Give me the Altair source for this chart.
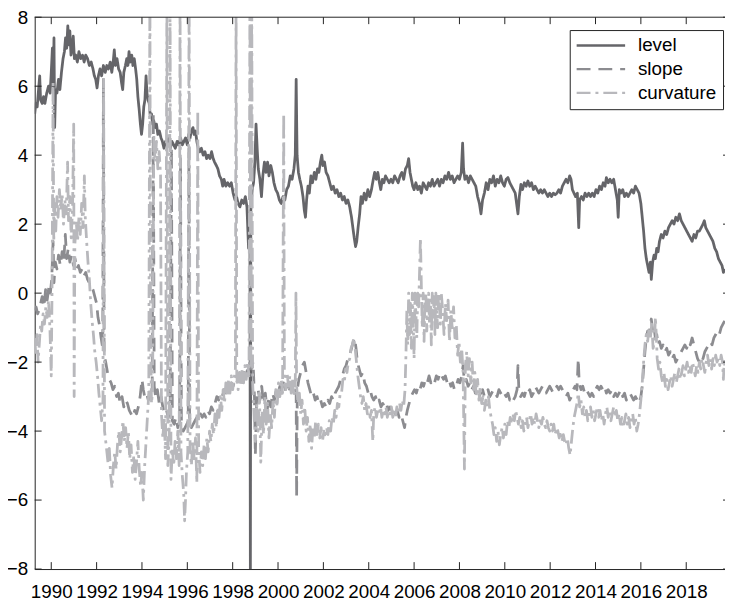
import altair as alt
import pandas as pd

SERIES = ["level", "slope", "curvature"]
COLORS = ["#656569", "#8c8c90", "#b8b8bc"]
DASHES = [[1, 0], [14, 8], [14, 5, 3, 5]]
X_TICKS = list(range(1990, 2019, 2))
Y_TICKS = list(range(-8, 9, 2))
X_DOMAIN = [1989.27, 2019.71]
Y_DOMAIN = [-8, 8]

LEVEL = [
    (1989.27, 5.2), (1989.32, 5.5), (1989.38, 5.4), (1989.44, 5.9), (1989.49, 6.3), (1989.53, 5.6),
    (1989.6, 5.5), (1989.66, 5.7), (1989.72, 5.5), (1989.8, 5.8), (1989.88, 6.0), (1989.95, 5.8),
    (1990.0, 6.4), (1990.05, 7.1), (1990.09, 6.0), (1990.12, 7.4), (1990.15, 4.8), (1990.19, 5.9),
    (1990.25, 5.8), (1990.32, 6.2), (1990.38, 5.9), (1990.45, 6.4), (1990.52, 6.8), (1990.58, 7.0),
    (1990.63, 7.4), (1990.68, 7.1), (1990.73, 7.75), (1990.77, 7.2), (1990.82, 7.6), (1990.87, 6.9),
    (1990.92, 7.1), (1990.97, 7.45), (1991.02, 6.8), (1991.08, 6.9), (1991.15, 6.7), (1991.22, 7.0),
    (1991.3, 6.8), (1991.38, 6.9), (1991.45, 6.7), (1991.52, 6.9), (1991.6, 6.8), (1991.68, 6.6),
    (1991.76, 6.7), (1991.84, 6.5), (1991.9, 6.3), (1991.96, 6.2), (1992.02, 5.95), (1992.08, 6.3),
    (1992.15, 6.5), (1992.22, 6.3), (1992.3, 6.6), (1992.38, 6.4), (1992.45, 6.6), (1992.52, 6.5),
    (1992.6, 6.7), (1992.67, 6.4), (1992.73, 6.7), (1992.78, 7.05), (1992.83, 6.6), (1992.9, 6.8),
    (1992.97, 6.5), (1993.04, 6.4), (1993.1, 6.1), (1993.15, 5.9), (1993.2, 6.4), (1993.27, 6.6),
    (1993.33, 6.8), (1993.38, 6.6), (1993.43, 7.0), (1993.48, 6.7), (1993.55, 6.9), (1993.6, 6.6),
    (1993.66, 6.8), (1993.72, 6.5), (1993.77, 6.2), (1993.82, 5.7), (1993.88, 5.3), (1993.93, 4.9),
    (1993.98, 4.6), (1994.03, 4.9), (1994.08, 5.4), (1994.13, 5.6), (1994.18, 6.3), (1994.22, 5.8),
    (1994.27, 5.6), (1994.32, 5.5), (1994.37, 5.1), (1994.42, 5.2), (1994.47, 4.9), (1994.52, 5.0),
    (1994.58, 4.8), (1994.64, 4.9), (1994.7, 4.6), (1994.77, 4.7), (1994.84, 4.5), (1994.9, 4.4),
    (1994.97, 4.2), (1995.04, 4.4), (1995.1, 4.3), (1995.18, 4.5), (1995.25, 4.2), (1995.32, 4.4),
    (1995.4, 4.3), (1995.47, 4.2), (1995.55, 4.4), (1995.62, 4.3), (1995.7, 4.5), (1995.78, 4.3),
    (1995.85, 4.4), (1995.92, 4.5), (1996.0, 4.3), (1996.06, 4.6), (1996.12, 4.5), (1996.18, 4.7),
    (1996.25, 4.8), (1996.3, 4.6), (1996.36, 4.7), (1996.42, 4.4), (1996.48, 4.2), (1996.55, 4.1),
    (1996.62, 4.2), (1996.7, 4.0), (1996.78, 4.1), (1996.85, 3.9), (1996.92, 4.0), (1997.0, 3.9),
    (1997.07, 4.1), (1997.14, 3.9), (1997.2, 3.8), (1997.28, 3.7), (1997.35, 3.6), (1997.42, 3.4),
    (1997.5, 3.3), (1997.56, 3.1), (1997.62, 3.3), (1997.7, 3.1), (1997.78, 3.2), (1997.86, 3.1),
    (1997.94, 3.2), (1998.02, 2.9), (1998.1, 2.7), (1998.17, 2.8), (1998.24, 2.6), (1998.32, 2.5),
    (1998.4, 2.7), (1998.48, 2.6), (1998.56, 2.8), (1998.63, 2.5), (1998.7, 1.3), (1998.76, 2.2),
    (1998.78, -8.5), (1998.8, 2.4), (1998.86, 3.0), (1998.92, 3.2), (1998.98, 3.8), (1999.03, 4.9),
    (1999.08, 4.2), (1999.13, 3.6), (1999.2, 3.3), (1999.27, 2.8), (1999.33, 3.4), (1999.4, 3.8),
    (1999.47, 3.5), (1999.54, 3.8), (1999.6, 3.4), (1999.68, 3.7), (1999.75, 3.5), (1999.82, 3.2),
    (1999.9, 3.0), (1999.98, 2.9), (2000.06, 2.7), (2000.14, 2.6), (2000.22, 2.8), (2000.3, 2.7),
    (2000.38, 3.0), (2000.46, 3.1), (2000.54, 3.4), (2000.62, 3.3), (2000.7, 3.6), (2000.76, 4.0),
    (2000.8, 6.2), (2000.84, 4.0), (2000.9, 3.5), (2000.96, 3.3), (2001.03, 3.1), (2001.1, 2.8),
    (2001.16, 2.4), (2001.21, 2.2), (2001.26, 2.7), (2001.32, 3.1), (2001.38, 2.9), (2001.45, 3.4),
    (2001.52, 3.2), (2001.6, 3.5), (2001.67, 3.3), (2001.74, 3.6), (2001.8, 3.5), (2001.87, 3.8),
    (2001.93, 4.0), (2001.98, 3.7), (2002.05, 3.8), (2002.12, 3.5), (2002.2, 3.4), (2002.28, 3.2),
    (2002.36, 3.0), (2002.44, 3.1), (2002.52, 2.9), (2002.6, 3.0), (2002.68, 2.8), (2002.76, 2.9),
    (2002.84, 2.7), (2002.92, 2.8), (2003.0, 2.6), (2003.08, 2.7), (2003.16, 2.5), (2003.24, 2.2),
    (2003.3, 1.9), (2003.36, 1.6), (2003.42, 1.35), (2003.47, 1.5), (2003.53, 1.9), (2003.6, 2.3),
    (2003.66, 2.8), (2003.72, 2.6), (2003.8, 2.9), (2003.88, 2.7), (2003.96, 3.0), (2004.04, 2.8),
    (2004.12, 3.0), (2004.2, 3.3), (2004.26, 3.5), (2004.33, 3.3), (2004.4, 3.5), (2004.47, 3.2),
    (2004.53, 3.0), (2004.6, 3.3), (2004.67, 3.2), (2004.74, 3.4), (2004.82, 3.3), (2004.9, 3.2),
    (2004.98, 3.3), (2005.06, 3.2), (2005.14, 3.4), (2005.22, 3.3), (2005.3, 3.2), (2005.38, 3.4),
    (2005.46, 3.5), (2005.54, 3.3), (2005.62, 3.6), (2005.7, 3.7), (2005.76, 3.9), (2005.82, 3.5),
    (2005.88, 3.3), (2005.94, 3.1), (2006.0, 3.0), (2006.08, 3.2), (2006.16, 3.0), (2006.24, 3.1),
    (2006.32, 2.9), (2006.4, 3.2), (2006.48, 3.1), (2006.56, 3.0), (2006.64, 3.2), (2006.72, 3.1),
    (2006.8, 3.3), (2006.88, 3.1), (2006.96, 3.2), (2007.04, 3.3), (2007.12, 3.1), (2007.2, 3.3),
    (2007.28, 3.2), (2007.36, 3.4), (2007.44, 3.3), (2007.52, 3.5), (2007.6, 3.3), (2007.68, 3.4),
    (2007.76, 3.2), (2007.84, 3.3), (2007.92, 3.4), (2008.0, 3.3), (2008.08, 3.5), (2008.14, 4.35),
    (2008.18, 3.6), (2008.24, 3.3), (2008.32, 3.4), (2008.4, 3.2), (2008.48, 3.4), (2008.56, 3.3),
    (2008.64, 3.2), (2008.72, 3.1), (2008.8, 2.8), (2008.88, 2.6), (2008.95, 2.3), (2009.02, 2.7),
    (2009.1, 2.9), (2009.18, 3.2), (2009.26, 3.0), (2009.34, 3.3), (2009.42, 3.2), (2009.5, 3.4),
    (2009.58, 3.1), (2009.66, 3.3), (2009.74, 3.2), (2009.82, 3.4), (2009.9, 3.2), (2009.98, 3.1),
    (2010.06, 3.3), (2010.14, 3.35), (2010.22, 3.2), (2010.3, 3.1), (2010.38, 3.0), (2010.46, 2.9),
    (2010.52, 2.6), (2010.58, 2.3), (2010.64, 2.8), (2010.71, 3.15), (2010.78, 3.0), (2010.86, 3.2),
    (2010.94, 3.1), (2011.02, 3.25), (2011.1, 3.1), (2011.18, 3.2), (2011.26, 3.0), (2011.34, 3.1),
    (2011.42, 3.0), (2011.5, 2.9), (2011.58, 3.0), (2011.66, 2.9), (2011.74, 3.0), (2011.82, 2.9),
    (2011.9, 2.8), (2011.98, 2.9), (2012.06, 2.8), (2012.14, 2.9), (2012.22, 2.85), (2012.3, 2.9),
    (2012.38, 3.0), (2012.46, 2.9), (2012.54, 3.1), (2012.62, 3.2), (2012.7, 3.3), (2012.78, 3.2),
    (2012.86, 3.4), (2012.92, 3.3), (2012.98, 3.0), (2013.05, 2.9), (2013.12, 2.8), (2013.2, 2.9),
    (2013.26, 1.9), (2013.3, 2.7), (2013.38, 2.8), (2013.46, 2.7), (2013.54, 2.9), (2013.62, 2.8),
    (2013.7, 2.9), (2013.78, 2.8), (2013.86, 2.9), (2013.94, 2.8), (2014.02, 3.0), (2014.1, 2.9),
    (2014.18, 3.1), (2014.26, 3.0), (2014.34, 3.2), (2014.42, 3.1), (2014.48, 3.35), (2014.56, 3.2),
    (2014.64, 3.3), (2014.72, 3.2), (2014.8, 3.3), (2014.88, 3.0), (2014.96, 2.7), (2015.0, 2.2),
    (2015.05, 3.0), (2015.12, 2.9), (2015.2, 3.0), (2015.28, 2.8), (2015.36, 2.9), (2015.44, 2.8),
    (2015.52, 2.9), (2015.6, 3.0), (2015.68, 2.9), (2015.76, 3.1), (2015.84, 3.0), (2015.92, 2.9),
    (2016.0, 2.6), (2016.06, 2.2), (2016.12, 1.8), (2016.18, 1.3), (2016.24, 1.0), (2016.3, 0.8),
    (2016.36, 0.6), (2016.42, 0.9), (2016.46, 0.4), (2016.52, 0.9), (2016.58, 1.1), (2016.64, 1.0),
    (2016.7, 1.3), (2016.76, 1.2), (2016.82, 1.5), (2016.9, 1.7), (2016.98, 1.6), (2017.06, 1.8),
    (2017.14, 1.7), (2017.22, 1.9), (2017.3, 2.0), (2017.38, 2.1), (2017.46, 2.0), (2017.54, 2.2),
    (2017.62, 2.1), (2017.7, 2.3), (2017.78, 2.1), (2017.86, 2.0), (2017.94, 1.9), (2018.02, 1.8),
    (2018.1, 1.7), (2018.18, 1.6), (2018.26, 1.5), (2018.34, 1.7), (2018.42, 1.6), (2018.5, 1.8),
    (2018.58, 1.8), (2018.66, 1.9), (2018.74, 2.0), (2018.8, 2.1), (2018.86, 1.9), (2018.94, 1.8),
    (2019.02, 1.7), (2019.1, 1.6), (2019.18, 1.5), (2019.26, 1.3), (2019.34, 1.2), (2019.42, 1.0),
    (2019.5, 0.9), (2019.58, 0.8), (2019.64, 0.6), (2019.7, 0.7),
]

SLOPE = [
    (1989.27, -0.5), (1989.33, -0.4), (1989.4, -0.6), (1989.46, -0.5), (1989.53, -0.3), (1989.6, -0.1),
    (1989.68, -0.4), (1989.75, 0.1), (1989.82, -0.2), (1989.9, 0.2), (1989.96, 0.0), (1990.02, 0.4),
    (1990.08, 1.5), (1990.12, 0.3), (1990.18, 0.9), (1990.25, 0.7), (1990.32, 1.1), (1990.4, 0.8),
    (1990.48, 1.2), (1990.55, 0.9), (1990.62, 1.7), (1990.68, 1.0), (1990.75, 1.3), (1990.82, 0.9),
    (1990.9, 1.1), (1990.98, 0.8), (1991.05, 1.0), (1991.12, 0.7), (1991.2, 0.8), (1991.28, 0.6),
    (1991.36, 0.7), (1991.44, 0.5), (1991.52, 0.6), (1991.6, 0.4), (1991.68, 0.3), (1991.76, 0.2),
    (1991.84, 0.1), (1991.92, -0.1), (1992.0, -0.3), (1992.06, -0.7), (1992.12, -0.9), (1992.2, -1.3),
    (1992.27, -1.6), (1992.3, 6.2), (1992.33, -1.8), (1992.4, -2.0), (1992.48, -2.3), (1992.56, -2.5),
    (1992.64, -2.6), (1992.72, -2.8), (1992.8, -2.7), (1992.88, -3.0), (1992.96, -2.9), (1993.04, -3.2),
    (1993.12, -3.0), (1993.2, -3.3), (1993.28, -3.1), (1993.36, -3.2), (1993.44, -3.4), (1993.52, -3.5),
    (1993.6, -3.6), (1993.68, -3.4), (1993.76, -3.5), (1993.84, -3.3), (1993.92, -3.0), (1994.0, -2.5),
    (1994.06, -2.8), (1994.12, -3.0), (1994.2, -2.9), (1994.28, -3.1), (1994.36, -2.8), (1994.45, -2.9),
    (1994.5, 5.2), (1994.54, -2.7), (1994.6, -3.0), (1994.68, -2.8), (1994.76, -3.2), (1994.84, -3.0),
    (1994.92, -3.3), (1995.0, -3.5), (1995.08, -3.4), (1995.16, -3.6), (1995.24, -3.5), (1995.3, 4.2),
    (1995.34, -3.7), (1995.42, -3.8), (1995.5, -3.6), (1995.58, -3.9), (1995.66, -3.7), (1995.7, 3.9),
    (1995.74, -3.8), (1995.82, -4.0), (1995.9, -3.9), (1995.98, -3.8), (1996.04, -3.7), (1996.07, 4.2),
    (1996.1, -3.6), (1996.18, -3.9), (1996.26, -3.8), (1996.34, -3.7), (1996.42, -3.6), (1996.5, -3.7),
    (1996.58, -3.5), (1996.66, -3.6), (1996.74, -3.5), (1996.82, -3.6), (1996.9, -3.4), (1996.98, -3.5),
    (1997.06, -3.3), (1997.14, -3.4), (1997.22, -3.2), (1997.3, -3.0), (1997.38, -3.1), (1997.46, -2.9),
    (1997.54, -3.0), (1997.62, -2.8), (1997.7, -2.9), (1997.78, -2.7), (1997.86, -2.8), (1997.94, -2.6),
    (1998.02, -2.7), (1998.1, -2.5), (1998.18, -2.6), (1998.26, -2.4), (1998.34, -2.6), (1998.42, -2.5),
    (1998.5, -2.3), (1998.58, -2.4), (1998.66, -2.2), (1998.74, -2.0), (1998.82, -2.2), (1998.9, -2.0),
    (1998.96, -3.0), (1999.0, -4.7), (1999.05, -3.2), (1999.12, -2.8), (1999.2, -3.1), (1999.28, -2.7),
    (1999.36, -3.2), (1999.44, -2.9), (1999.52, -3.4), (1999.6, -3.0), (1999.68, -3.3), (1999.76, -2.9),
    (1999.84, -3.1), (1999.92, -2.8), (2000.0, -2.9), (2000.08, -2.7), (2000.16, -2.9), (2000.24, -2.6),
    (2000.32, -2.8), (2000.4, -2.7), (2000.48, -2.9), (2000.56, -2.6), (2000.64, -2.8), (2000.72, -2.7),
    (2000.8, -2.9), (2000.82, -5.9), (2000.85, -2.8), (2000.92, -2.5), (2001.0, -2.3), (2001.08, -2.1),
    (2001.16, -2.0), (2001.24, -2.3), (2001.32, -2.6), (2001.4, -2.8), (2001.48, -3.0), (2001.56, -2.9),
    (2001.64, -3.1), (2001.72, -3.0), (2001.8, -3.2), (2001.88, -3.1), (2001.96, -3.3), (2002.04, -3.2),
    (2002.12, -3.3), (2002.2, -3.1), (2002.28, -3.2), (2002.36, -3.0), (2002.44, -3.1), (2002.52, -2.9),
    (2002.6, -2.8), (2002.68, -2.7), (2002.76, -2.5), (2002.84, -2.4), (2002.92, -2.2), (2003.0, -2.1),
    (2003.08, -1.9), (2003.16, -1.8), (2003.24, -1.6), (2003.32, -1.4), (2003.38, -1.3), (2003.44, -1.6),
    (2003.5, -2.0), (2003.58, -2.2), (2003.66, -2.4), (2003.74, -2.3), (2003.82, -2.6), (2003.9, -2.7),
    (2003.98, -2.9), (2004.06, -2.8), (2004.14, -3.0), (2004.22, -3.1), (2004.3, -3.0), (2004.38, -3.2),
    (2004.46, -3.1), (2004.54, -3.3), (2004.62, -3.2), (2004.7, -3.3), (2004.78, -3.2), (2004.86, -3.4),
    (2004.94, -3.3), (2005.02, -3.4), (2005.1, -3.3), (2005.18, -3.5), (2005.26, -3.4), (2005.34, -3.6),
    (2005.42, -3.5), (2005.5, -3.7), (2005.58, -3.9), (2005.64, -3.6), (2005.7, -3.4), (2005.78, -3.2),
    (2005.86, -3.0), (2005.94, -2.9), (2006.02, -2.8), (2006.1, -2.9), (2006.18, -2.7), (2006.26, -2.8),
    (2006.34, -2.6), (2006.42, -2.7), (2006.5, -2.5), (2006.58, -2.6), (2006.66, -2.4), (2006.74, -2.6),
    (2006.82, -2.5), (2006.9, -2.6), (2006.98, -2.4), (2007.06, -2.5), (2007.14, -2.3), (2007.22, -2.4),
    (2007.3, -2.5), (2007.38, -2.4), (2007.46, -2.6), (2007.54, -2.5), (2007.62, -2.7), (2007.7, -2.6),
    (2007.78, -2.8), (2007.86, -2.7), (2007.94, -2.5), (2008.02, -2.6), (2008.1, -2.4), (2008.16, -2.1),
    (2008.22, -2.6), (2008.3, -2.5), (2008.38, -2.7), (2008.46, -2.6), (2008.54, -2.8), (2008.62, -2.7),
    (2008.7, -2.9), (2008.78, -2.8), (2008.86, -3.0), (2008.94, -2.9), (2009.02, -2.8), (2009.1, -3.0),
    (2009.18, -2.9), (2009.26, -2.8), (2009.34, -3.0), (2009.42, -2.9), (2009.5, -2.8), (2009.58, -2.9),
    (2009.66, -3.0), (2009.74, -2.8), (2009.82, -2.9), (2009.9, -3.0), (2009.98, -2.9), (2010.06, -3.0),
    (2010.14, -2.9), (2010.22, -3.1), (2010.3, -3.0), (2010.38, -3.1), (2010.46, -3.0), (2010.54, -2.8),
    (2010.58, -2.1), (2010.62, -2.8), (2010.7, -3.0), (2010.78, -2.9), (2010.86, -3.0), (2010.94, -2.8),
    (2011.02, -2.9), (2011.1, -2.8), (2011.18, -3.0), (2011.26, -2.9), (2011.34, -2.7), (2011.42, -2.8),
    (2011.5, -2.9), (2011.58, -2.8), (2011.66, -2.7), (2011.74, -2.8), (2011.82, -2.9), (2011.9, -2.8),
    (2011.98, -2.7), (2012.06, -2.8), (2012.14, -2.9), (2012.22, -2.8), (2012.3, -2.7), (2012.38, -2.8),
    (2012.46, -2.7), (2012.54, -2.8), (2012.62, -2.9), (2012.7, -3.0), (2012.78, -2.9), (2012.86, -3.1),
    (2012.94, -3.0), (2013.02, -2.8), (2013.1, -2.7), (2013.18, -2.8), (2013.24, -1.9), (2013.28, -2.6),
    (2013.36, -2.8), (2013.44, -2.7), (2013.52, -2.9), (2013.6, -2.8), (2013.68, -2.9), (2013.76, -3.0),
    (2013.84, -2.9), (2013.92, -3.0), (2014.0, -2.8), (2014.08, -2.7), (2014.16, -2.8), (2014.24, -2.7),
    (2014.32, -2.8), (2014.4, -2.7), (2014.48, -2.9), (2014.56, -2.8), (2014.64, -2.9), (2014.72, -2.8),
    (2014.8, -3.0), (2014.88, -2.9), (2014.96, -3.0), (2015.04, -2.9), (2015.12, -2.8), (2015.2, -3.0),
    (2015.28, -2.9), (2015.36, -3.1), (2015.44, -3.0), (2015.52, -2.9), (2015.6, -3.0), (2015.68, -3.1),
    (2015.76, -3.0), (2015.84, -3.1), (2015.92, -3.2), (2016.0, -3.0), (2016.06, -2.7), (2016.12, -2.2),
    (2016.18, -1.7), (2016.24, -1.3), (2016.3, -1.1), (2016.36, -1.2), (2016.42, -0.9), (2016.46, -0.75),
    (2016.52, -1.1), (2016.58, -1.0), (2016.64, -1.3), (2016.7, -1.2), (2016.76, -1.5), (2016.82, -1.4),
    (2016.9, -1.6), (2016.98, -1.5), (2017.06, -1.7), (2017.14, -1.6), (2017.22, -1.8), (2017.3, -1.7),
    (2017.38, -1.9), (2017.46, -1.8), (2017.54, -2.0), (2017.62, -1.9), (2017.7, -1.8), (2017.78, -1.7),
    (2017.86, -1.6), (2017.94, -1.5), (2018.02, -1.6), (2018.1, -1.4), (2018.18, -1.5), (2018.26, -1.3),
    (2018.34, -1.5), (2018.42, -1.7), (2018.5, -1.9), (2018.58, -2.0), (2018.66, -1.8), (2018.74, -1.9),
    (2018.82, -1.7), (2018.9, -1.6), (2018.98, -1.5), (2019.06, -1.4), (2019.14, -1.5), (2019.22, -1.3),
    (2019.3, -1.2), (2019.38, -1.1), (2019.46, -1.2), (2019.54, -1.0), (2019.62, -0.9), (2019.7, -0.8),
]

CURVATURE = [
    (1989.27, -1.3), (1989.32, -1.8), (1989.37, -1.2), (1989.42, -2.0), (1989.48, -1.4), (1989.53, -0.9),
    (1989.58, -1.1), (1989.64, -0.6), (1989.7, -0.9), (1989.76, -0.4), (1989.82, -0.7), (1989.88, -0.2),
    (1989.94, -1.0), (1990.0, -2.4), (1990.04, 0.5), (1990.08, 6.1), (1990.11, 1.5), (1990.15, 2.6),
    (1990.2, 1.8), (1990.25, 2.8), (1990.3, 2.2), (1990.36, 3.0), (1990.42, 2.4), (1990.48, 2.9),
    (1990.54, 2.0), (1990.6, 2.7), (1990.66, 2.3), (1990.72, 3.8), (1990.76, 2.1), (1990.82, 2.8),
    (1990.88, 1.6), (1990.94, 2.5), (1990.99, 4.9), (1991.01, -3.0), (1991.04, 1.4), (1991.1, 2.1),
    (1991.16, 1.5), (1991.22, 2.2), (1991.28, 1.7), (1991.34, 2.6), (1991.4, 1.9), (1991.46, 3.4),
    (1991.5, 2.2), (1991.56, 1.5), (1991.62, 0.9), (1991.68, 0.4), (1991.74, -0.3), (1991.8, -0.8),
    (1991.86, -1.2), (1991.92, -1.7), (1991.98, -2.0), (1992.04, -2.4), (1992.1, -2.9), (1992.16, -3.3),
    (1992.22, -3.7), (1992.28, -3.1), (1992.31, 6.2), (1992.35, -4.0), (1992.42, -4.4), (1992.5, -4.9),
    (1992.56, -4.5), (1992.62, -5.3), (1992.68, -5.65), (1992.74, -5.0), (1992.8, -4.6), (1992.86, -5.1),
    (1992.92, -4.4), (1992.98, -4.0), (1993.04, -4.6), (1993.1, -4.2), (1993.16, -3.7), (1993.22, -4.3),
    (1993.28, -3.9), (1993.34, -4.5), (1993.4, -4.0), (1993.46, -4.8), (1993.52, -4.4), (1993.58, -5.2),
    (1993.64, -4.7), (1993.7, -5.4), (1993.76, -4.9), (1993.82, -4.3), (1993.88, -5.1), (1993.94, -5.6),
    (1994.0, -5.2), (1994.06, -6.0), (1994.12, -5.0), (1994.18, -4.3), (1994.24, -3.6), (1994.3, -2.9),
    (1994.35, 9.0), (1994.38, -1.4), (1994.42, -3.2), (1994.47, -2.8), (1994.52, 4.6), (1994.58, 3.8),
    (1994.64, 4.4), (1994.7, 3.6), (1994.76, 4.1), (1994.82, 3.4), (1994.86, -3.5), (1994.92, -4.2),
    (1994.98, -3.6), (1995.04, -4.8), (1995.1, 9.0), (1995.14, -5.0), (1995.2, -4.2), (1995.24, 9.0),
    (1995.28, -5.4), (1995.34, -4.5), (1995.4, -5.0), (1995.46, -4.3), (1995.52, -4.8), (1995.58, -4.0),
    (1995.64, -5.0), (1995.68, 9.0), (1995.72, -4.6), (1995.78, -5.3), (1995.84, -5.8), (1995.88, -6.6),
    (1995.92, -6.0), (1995.96, -5.2), (1996.02, -4.6), (1996.08, 9.0), (1996.12, -4.4), (1996.18, -5.0),
    (1996.24, -4.3), (1996.3, -4.8), (1996.36, -4.2), (1996.42, -5.5), (1996.46, 5.3), (1996.5, -4.5),
    (1996.56, -5.2), (1996.62, -4.6), (1996.68, -5.0), (1996.74, -4.4), (1996.8, -4.8), (1996.86, -4.2),
    (1996.92, -4.6), (1996.98, -4.0), (1997.04, -4.3), (1997.1, -3.8), (1997.16, -4.1), (1997.22, -3.5),
    (1997.28, -3.9), (1997.34, -3.3), (1997.4, -3.6), (1997.46, -3.0), (1997.52, -3.4), (1997.58, -2.8),
    (1997.64, -3.2), (1997.7, -2.6), (1997.76, -3.0), (1997.82, -2.5), (1997.88, -2.9), (1997.94, -2.4),
    (1998.0, -2.8), (1998.06, -2.5), (1998.12, -2.2), (1998.15, 9.0), (1998.18, -2.4), (1998.24, -2.8),
    (1998.3, -2.3), (1998.36, -2.7), (1998.42, -2.2), (1998.48, -2.6), (1998.54, -2.1), (1998.6, -2.5),
    (1998.66, -2.0), (1998.72, -2.4), (1998.76, 9.0), (1998.8, -2.2), (1998.84, 9.0), (1998.88, -2.6),
    (1998.94, -3.5), (1999.0, -4.3), (1999.06, -3.2), (1999.12, -4.0), (1999.18, -2.9), (1999.24, -4.9),
    (1999.3, -3.4), (1999.36, -4.1), (1999.42, -3.0), (1999.48, -3.8), (1999.54, -3.2), (1999.6, -4.2),
    (1999.66, -3.5), (1999.72, -3.9), (1999.78, -3.1), (1999.84, -3.6), (1999.9, -2.8), (1999.96, -3.3),
    (2000.02, -2.6), (2000.08, -3.0), (2000.14, -2.5), (2000.2, -2.9), (2000.25, 5.2), (2000.28, -2.4),
    (2000.34, -2.8), (2000.4, -2.3), (2000.46, -2.7), (2000.52, -2.4), (2000.58, -2.9), (2000.64, -2.5),
    (2000.7, -3.0), (2000.76, -2.6), (2000.79, 0.0), (2000.82, -2.7), (2000.88, -3.2), (2000.94, -2.9),
    (2001.0, -3.5), (2001.06, -3.1), (2001.12, -3.8), (2001.18, -3.3), (2001.24, -4.0), (2001.3, -3.6),
    (2001.36, -4.3), (2001.42, -3.8), (2001.48, -4.5), (2001.54, -3.9), (2001.6, -4.2), (2001.66, -3.7),
    (2001.72, -4.1), (2001.78, -3.8), (2001.84, -4.2), (2001.9, -3.9), (2001.96, -4.3), (2002.02, -4.0),
    (2002.08, -4.2), (2002.14, -3.9), (2002.2, -4.1), (2002.26, -3.7), (2002.32, -4.0), (2002.38, -3.6),
    (2002.44, -3.8), (2002.5, -3.4), (2002.56, -3.6), (2002.62, -3.2), (2002.68, -3.3), (2002.74, -2.9),
    (2002.8, -2.9), (2002.86, -2.5), (2002.92, -2.6), (2002.98, -2.2), (2003.04, -2.3), (2003.1, -2.0),
    (2003.16, -1.9), (2003.22, -1.6), (2003.28, -1.5), (2003.34, -1.3), (2003.4, -1.6), (2003.46, -2.0),
    (2003.52, -2.4), (2003.58, -2.7), (2003.64, -3.0), (2003.7, -3.2), (2003.76, -3.0), (2003.82, -3.4),
    (2003.88, -3.2), (2003.94, -3.5), (2004.0, -3.3), (2004.06, -3.6), (2004.12, -3.4), (2004.18, -4.3),
    (2004.22, -3.5), (2004.28, -3.3), (2004.34, -3.6), (2004.4, -3.4), (2004.46, -3.5), (2004.52, -3.3),
    (2004.58, -3.6), (2004.64, -3.4), (2004.7, -3.5), (2004.76, -3.3), (2004.82, -3.6), (2004.88, -3.4),
    (2004.94, -3.5), (2005.0, -3.3), (2005.06, -3.6), (2005.12, -3.4), (2005.18, -3.6), (2005.24, -3.3),
    (2005.3, -3.5), (2005.36, -3.2), (2005.42, -3.4), (2005.48, -3.1), (2005.54, -3.3), (2005.6, -2.8),
    (2005.64, -1.8), (2005.68, -0.5), (2005.72, -1.5), (2005.76, 0.0), (2005.8, -1.2), (2005.84, -0.3),
    (2005.88, -1.6), (2005.92, 0.0), (2005.96, -0.8), (2006.0, -1.9), (2006.04, 0.0), (2006.08, -0.6),
    (2006.12, -1.3), (2006.16, 0.0), (2006.2, -0.4), (2006.24, 0.6), (2006.28, 1.6), (2006.32, 0.2),
    (2006.36, -1.0), (2006.4, 0.0), (2006.44, -1.4), (2006.48, -0.2), (2006.52, 0.0), (2006.56, -1.1),
    (2006.6, -0.3), (2006.64, 0.0), (2006.68, -0.9), (2006.72, -0.2), (2006.76, -1.5), (2006.8, 0.0),
    (2006.84, -0.7), (2006.88, -0.1), (2006.92, -1.2), (2006.96, 0.0), (2007.0, -0.6), (2007.04, -1.0),
    (2007.08, 0.0), (2007.12, -0.4), (2007.16, -0.9), (2007.2, 0.0), (2007.26, -0.5), (2007.32, -1.2),
    (2007.38, -0.3), (2007.44, -0.8), (2007.5, -0.2), (2007.56, -1.4), (2007.62, -0.5), (2007.68, -1.0),
    (2007.74, -0.4), (2007.8, -1.3), (2007.86, -0.9), (2007.92, -1.8), (2007.98, -1.4), (2008.04, -2.0),
    (2008.1, -1.6), (2008.16, -2.3), (2008.22, -5.1), (2008.26, -2.1), (2008.32, -1.7), (2008.38, -2.4),
    (2008.44, -1.9), (2008.5, -2.6), (2008.56, -2.0), (2008.62, -2.8), (2008.68, -2.3), (2008.74, -3.0),
    (2008.8, -2.5), (2008.86, -3.1), (2008.92, -2.7), (2008.98, -3.2), (2009.04, -3.0), (2009.1, -3.4),
    (2009.16, -3.1), (2009.22, -3.3), (2009.28, -3.0), (2009.34, -3.4), (2009.4, -3.6), (2009.46, -3.8),
    (2009.52, -4.1), (2009.58, -3.9), (2009.64, -4.3), (2009.7, -4.0), (2009.76, -4.4), (2009.82, -4.1),
    (2009.88, -3.9), (2009.94, -4.2), (2010.0, -3.8), (2010.06, -4.1), (2010.12, -3.7), (2010.18, -3.9),
    (2010.24, -3.6), (2010.3, -3.8), (2010.36, -3.5), (2010.42, -3.7), (2010.48, -3.4), (2010.54, -3.6),
    (2010.6, -3.8), (2010.66, -3.6), (2010.72, -3.9), (2010.78, -3.7), (2010.84, -4.0), (2010.9, -3.8),
    (2010.96, -3.6), (2011.02, -3.9), (2011.08, -3.7), (2011.14, -3.5), (2011.2, -3.8), (2011.26, -3.6),
    (2011.32, -3.8), (2011.38, -3.5), (2011.44, -3.7), (2011.5, -3.9), (2011.56, -3.7), (2011.62, -3.8),
    (2011.68, -3.6), (2011.74, -3.8), (2011.8, -3.9), (2011.86, -3.7), (2011.92, -3.9), (2011.98, -4.0),
    (2012.04, -3.8), (2012.1, -4.0), (2012.16, -3.8), (2012.22, -4.1), (2012.28, -3.9), (2012.34, -4.0),
    (2012.4, -4.2), (2012.46, -4.0), (2012.52, -4.3), (2012.58, -4.1), (2012.64, -4.3), (2012.7, -4.4),
    (2012.76, -4.2), (2012.82, -4.5), (2012.88, -4.7), (2012.94, -4.3), (2013.0, -3.9), (2013.06, -3.6),
    (2013.12, -3.4), (2013.18, -3.2), (2013.24, -2.9), (2013.3, -3.3), (2013.36, -3.1), (2013.42, -3.5),
    (2013.48, -3.3), (2013.54, -3.6), (2013.6, -3.4), (2013.66, -3.7), (2013.72, -3.5), (2013.78, -3.3),
    (2013.84, -3.6), (2013.9, -3.4), (2013.96, -3.7), (2014.02, -3.5), (2014.08, -3.3), (2014.14, -3.6),
    (2014.2, -3.4), (2014.26, -3.7), (2014.32, -3.5), (2014.38, -3.8), (2014.44, -3.5), (2014.5, -3.3),
    (2014.56, -3.6), (2014.62, -3.4), (2014.68, -3.7), (2014.74, -3.5), (2014.8, -3.3), (2014.86, -3.6),
    (2014.92, -3.4), (2014.98, -3.7), (2015.04, -3.5), (2015.1, -3.8), (2015.16, -3.6), (2015.22, -3.9),
    (2015.28, -3.7), (2015.34, -3.5), (2015.4, -3.8), (2015.46, -3.6), (2015.52, -3.9), (2015.58, -3.7),
    (2015.64, -3.5), (2015.7, -3.8), (2015.76, -3.6), (2015.82, -4.0), (2015.88, -3.8), (2015.94, -3.5),
    (2016.0, -3.1), (2016.06, -2.6), (2016.12, -2.0), (2016.18, -1.5), (2016.24, -1.2), (2016.3, -1.4),
    (2016.36, -1.0), (2016.42, -1.3), (2016.48, -0.9), (2016.54, -1.6), (2016.6, -1.4), (2016.64, -0.7),
    (2016.68, -1.2), (2016.72, -1.9), (2016.78, -2.2), (2016.84, -2.0), (2016.9, -2.4), (2016.96, -2.6),
    (2017.02, -2.3), (2017.08, -2.7), (2017.14, -2.5), (2017.2, -2.8), (2017.26, -2.6), (2017.32, -2.4),
    (2017.38, -2.7), (2017.44, -2.5), (2017.5, -2.3), (2017.56, -2.6), (2017.62, -2.4), (2017.68, -2.2),
    (2017.74, -2.5), (2017.8, -2.3), (2017.86, -2.1), (2017.92, -2.4), (2017.98, -2.2), (2018.04, -2.0),
    (2018.1, -2.3), (2018.16, -2.1), (2018.22, -2.3), (2018.28, -2.0), (2018.34, -2.2), (2018.4, -2.4),
    (2018.46, -2.1), (2018.52, -2.3), (2018.58, -2.0), (2018.64, -2.2), (2018.7, -1.9), (2018.76, -2.1),
    (2018.82, -2.3), (2018.88, -2.0), (2018.94, -1.8), (2019.0, -2.1), (2019.06, -1.9), (2019.12, -2.2),
    (2019.18, -1.9), (2019.24, -2.1), (2019.3, -1.8), (2019.36, -2.0), (2019.42, -1.9), (2019.48, -2.1),
    (2019.54, -1.8), (2019.6, -2.0), (2019.64, -2.5), (2019.68, -1.9), (2019.7, -2.1),
]

rows = []
for name, pts in zip(SERIES, [LEVEL, SLOPE, CURVATURE]):
    for i, (t, v) in enumerate(pts):
        rows.append({"series": name, "year": t, "value": v, "idx": i})
df = pd.DataFrame(rows)

W, H = 698, 558
FONT = "Liberation Sans"
FS = 19
AXIS_COLOR = "#222222"

x_scale = alt.Scale(domain=X_DOMAIN, nice=False, zero=False)
y_scale = alt.Scale(domain=Y_DOMAIN, nice=False, zero=False)

x_axis = alt.Axis(values=X_TICKS, format="d", ticks=False, tickSize=0, grid=False, title=None,
                  labelFont=FONT, labelFontSize=FS, labelColor="black", labelPadding=14,
                  labelOverlap=False, labelFlush=False, domainColor=AXIS_COLOR, domainWidth=1)
y_axis = alt.Axis(values=Y_TICKS, ticks=False, tickSize=0, grid=False, title=None,
                  labelFont=FONT, labelFontSize=FS, labelColor="black", labelPadding=7,
                  labelOverlap=False, labelFlush=False, domainColor=AXIS_COLOR, domainWidth=1)

legend = alt.Legend(title=None, orient="none", legendX=541, legendY=13,
                    symbolType="M-3,0L3,0", symbolSize=267, symbolStrokeWidth=2.5,
                    symbolOffset=16, labelOffset=28, labelFont=FONT, labelFontSize=FS,
                    labelColor="black", strokeColor=AXIS_COLOR, fillColor="white",
                    padding=6, rowPadding=4)

color = alt.Color("series:N", scale=alt.Scale(domain=SERIES, range=COLORS), legend=legend)
dash = alt.StrokeDash("series:N", scale=alt.Scale(domain=SERIES, range=DASHES), legend=legend)

layers = []
for s in SERIES:
    layers.append(
        alt.Chart(df)
        .transform_filter(alt.datum.series == s)
        .mark_line(clip=True, strokeWidth=2.8, strokeJoin="round")
        .encode(
            x=alt.X("year:Q", scale=x_scale, axis=x_axis),
            y=alt.Y("value:Q", scale=y_scale, axis=y_axis),
            color=color,
            strokeDash=dash,
            order="idx:Q",
        )
    )

xt = pd.DataFrame({"year": X_TICKS})
yt = pd.DataFrame({"value": Y_TICKS})
one = pd.DataFrame({"k": [0]})

tick_bottom = alt.Chart(xt).mark_rule(color=AXIS_COLOR, strokeWidth=1).encode(
    x=alt.X("year:Q", scale=x_scale, axis=x_axis), y=alt.value(H), y2=alt.value(H - 7))
tick_top = alt.Chart(xt).mark_rule(color=AXIS_COLOR, strokeWidth=1).encode(
    x=alt.X("year:Q", scale=x_scale, axis=x_axis), y=alt.value(0), y2=alt.value(7))
tick_left = alt.Chart(yt).mark_rule(color=AXIS_COLOR, strokeWidth=1).encode(
    y=alt.Y("value:Q", scale=y_scale, axis=y_axis), x=alt.value(0), x2=alt.value(7))
tick_right = alt.Chart(yt).mark_rule(color=AXIS_COLOR, strokeWidth=1).encode(
    y=alt.Y("value:Q", scale=y_scale, axis=y_axis), x=alt.value(W - 2), x2=alt.value(W))
top_border = alt.Chart(one).mark_rule(color=AXIS_COLOR, strokeWidth=1).encode(
    x=alt.value(0), x2=alt.value(W), y=alt.value(0))

chart = alt.layer(*layers, tick_bottom, tick_top, tick_left, tick_right, top_border).properties(
    width=W, height=H,
    autosize=alt.AutoSizeParams(type="none"),
    padding={"left": 27, "top": 6, "right": 0, "bottom": 29},
    background="white",
).configure_view(stroke="transparent")

chart.save("out.html", embed_options={"renderer": "svg", "actions": False})
